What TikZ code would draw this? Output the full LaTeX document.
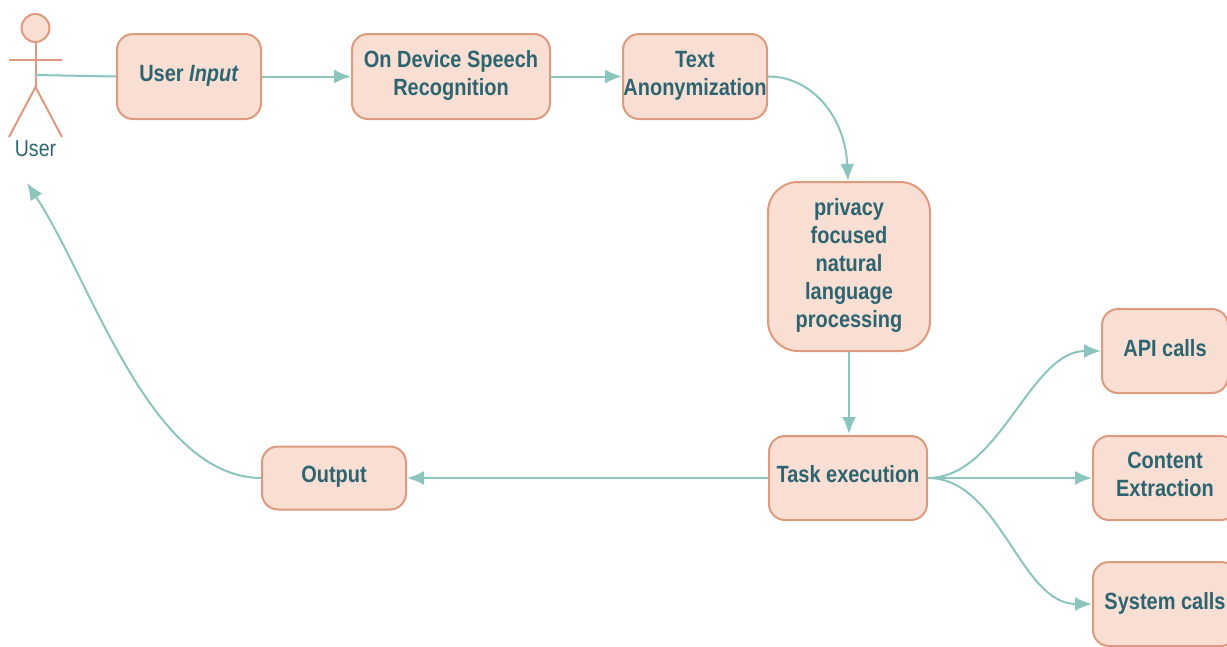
\documentclass[tikz,border=0pt]{standalone}
\usepackage{fontspec}
\setmainfont[FakeStretch=0.85]{Liberation Sans}
\usetikzlibrary{arrows.meta}
\definecolor{boxfill}{HTML}{F9DED3}
\definecolor{boxline}{HTML}{DE9A7F}
\definecolor{linkc}{HTML}{8CC4BE}
\definecolor{textc}{HTML}{2C6570}
\newcommand{\rs}{-6pt}
\newcommand{\tx}[1]{\raisebox{\rs}[0pt][0pt]{\begin{tabular}[c]{@{}c@{}}#1\end{tabular}}}
\tikzset{
  x=1pt,y=-1pt,
  block/.style={draw=boxline,fill=boxfill,line width=2pt,rounded corners=#1,inner sep=0pt,text=textc,
    font=\fontsize{23.5}{28}\selectfont\bfseries,anchor=center},
  block/.default=16pt,
  link/.style={draw=linkc,line width=2pt,-{Latex[length=17pt,width=14pt]}},
  plain/.style={draw=linkc,line width=2pt},
  stick/.style={draw=boxline,line width=2pt}
}
\newcommand{\blk}[6][16pt]{\node[block=#1,minimum width=#4 pt,minimum height=#5 pt] (#2) at (#3) {\tx{#6}};}
\begin{document}
\begin{tikzpicture}
\clip (0,0) rectangle (1227,646);
\fill[white] (0,0) rectangle (1227,646);
% actor
\node[draw=boxline,fill=boxfill,line width=2pt,circle,minimum size=28pt,inner sep=0pt] (head) at (35.5,28) {};
\coordinate (hip) at (35.5,87);
\coordinate (armL) at (9,60);
\coordinate (armR) at (62,60);
\coordinate (legL) at (9,137);
\coordinate (legR) at (62,137);
\coordinate (hand) at (35,75);
\draw[stick] (head.south) -- (hip);
\draw[stick] (armL) -- (armR);
\draw[stick] (legL) -- (hip) -- (legR);
\node[text=textc,font=\fontsize{23}{26}\selectfont,inner sep=0pt] (userlabel) at (35.5,149) {User};
% boxes
\blk{input}{189,76.5}{144}{85}{User \textit{Input}}
\blk{speech}{451,76.5}{198}{85}{On Device Speech\\Recognition}
\blk{anon}{695,76.5}{144}{85}{Text\\Anonymization}
\blk[30pt]{nlp}{849,266.5}{162}{169}{privacy\\focused\\natural\\language\\processing}
\blk{api}{1165,351}{126}{84}{API calls}
\blk{system}{1165,604}{144}{84}{System calls}
\renewcommand{\rs}{-5pt}
\blk{output}{334,478}{144}{63}{Output}
\blk{task}{848,478}{158}{84}{Task execution}
\blk{content}{1165,478}{144}{84}{Content\\Extraction}
% connectors
\coordinate (back) at (27,183);
\coordinate (nlpin) at (848,181);
\coordinate (taskin) at (849,434);
\draw[plain] (hand) -- (input.west);
\draw[link] (input.east) -- (speech.west);
\draw[link] (speech.east) -- (anon.west);
\draw[link] (anon.east) .. controls (810,76) and (845,115) .. (nlpin);
\draw[link] (nlp.south) -- (taskin);
\draw[link] (task.west) -- (output.east);
\draw[link] (task.east) .. controls (1000,478) and (1030,351) .. (api.west);
\draw[link] (task.east) -- (content.west);
\draw[link] (task.east) .. controls (1000,478) and (1020,604) .. (system.west);
\draw[link] (output.west) .. controls (150,477) and (92,282) .. (back);
\end{tikzpicture}
\end{document}
